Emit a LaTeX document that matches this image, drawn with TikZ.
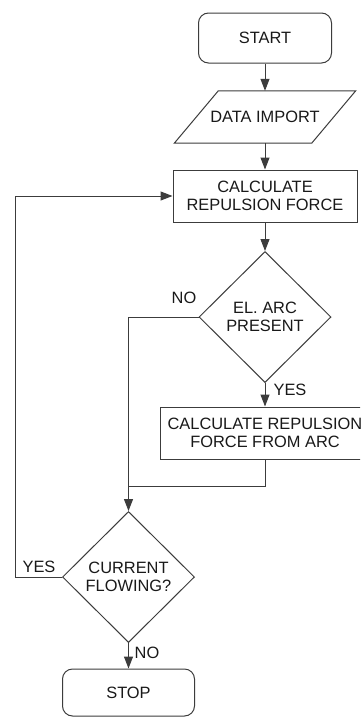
\documentclass[tikz,border=0pt]{standalone}
\usepackage{fontspec}
\setmainfont{Liberation Sans}
\usetikzlibrary{arrows.meta,shapes.geometric}
\definecolor{ln}{RGB}{60,60,60}
\definecolor{tx}{RGB}{25,25,25}
\tikzset{
  every node/.style={font=\fontsize{16.4}{18.3}\selectfont, text=tx},
  termbox/.style={draw=ln, line width=1pt, rounded corners=10pt, minimum width=133pt, minimum height=50pt, inner sep=0pt},
  procbox/.style={draw=ln, line width=1pt, minimum height=52pt, inner sep=0pt, align=center},
  decbox/.style={draw=ln, line width=1pt, diamond, minimum width=132pt, minimum height=131pt, inner sep=0pt, align=center},
  flow/.style={draw=ln, line width=1pt, -{Triangle[length=12pt,width=9pt]}},
  plainline/.style={draw=ln, line width=1pt},
  lbl/.style={inner sep=0pt},
}
\begin{document}
\begin{tikzpicture}[x=1pt,y=-1pt]
\useasboundingbox (0,0) rectangle (360,718);
\clip (0,0) rectangle (360,718);
\fill[white] (0,0) rectangle (360,718);

\node[termbox] (start) at (265,38) {START};
\node[inner sep=0pt, minimum width=137pt, minimum height=52pt] (data) at (265,117) {DATA IMPORT};
\draw[plainline] ([xshift=22pt]data.north west) -- ([xshift=22pt]data.north east)
  -- ([xshift=-22pt]data.south east) -- ([xshift=-22pt]data.south west) -- cycle;
\node[procbox, minimum width=184pt] (calc) at (265,196) {CALCULATE\\REPULSION FORCE};
\node[decbox] (arc) at (265,317) {EL. ARC\\PRESENT};
\node[procbox, minimum width=209pt] (force) at (265,433) {CALCULATE REPULSION\\FORCE FROM ARC};
\node[decbox] (flow) at (128.5,577) {CURRENT\\FLOWING?};
\node[termbox, minimum width=132pt, minimum height=47pt] (stop) at (128.5,692.5) {STOP};

\draw[flow] (start.south) -- (data.north);
\draw[flow] (data.south) -- (calc.north);
\draw[flow] (calc.south) -- (arc.north);
\draw[flow] (arc.south) -- (force.north);
\coordinate (join) at (128.5,486);
\draw[plainline] (force.south) |- (join);
\draw[flow] (arc.west) -| (flow.north);
\draw[flow] (flow.south) -- (stop.north);
\coordinate (loop) at (15,577);
\draw[flow] (flow.west) -- (loop) |- (calc.west);

\node[lbl] (no1) at (184,298) {NO};
\node[lbl] (yes1) at (290,390) {YES};
\node[lbl] (yes2) at (39,567) {YES};
\node[lbl] (no2) at (147,653) {NO};
\end{tikzpicture}
\end{document}
